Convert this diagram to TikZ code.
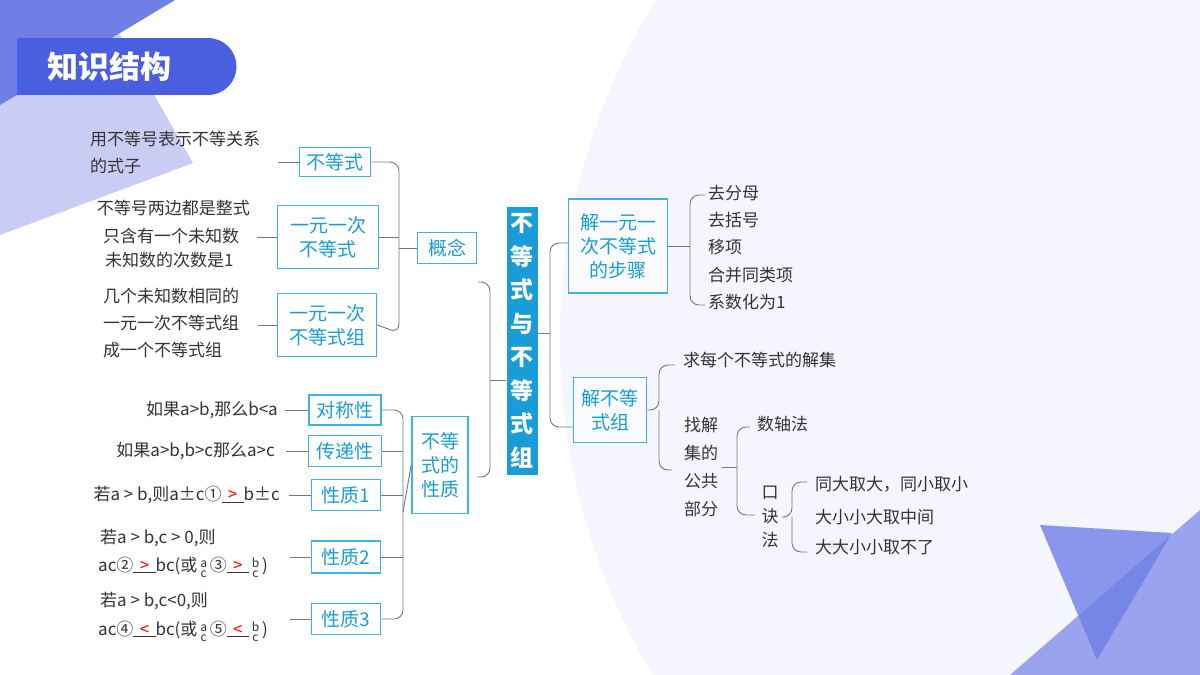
\documentclass[tikz,border=0pt]{standalone}
\usepackage{fontspec}
\setmainfont{Noto Sans CJK SC}
\definecolor{cy}{HTML}{1A9CD8}
\definecolor{cyb}{HTML}{3BB3E6}
\definecolor{ln}{HTML}{777777}
\newcommand{\blk}[1]{\underline{\makebox[1.3em]{\color{red}#1}}}
\newcommand{\fr}[2]{\,\raisebox{-0.35em}{\fontsize{12}{10}\selectfont\shortstack{#1\\#2}}\,}
\begin{document}
\begin{tikzpicture}[x=1pt,y=-1pt,
  box/.style={draw=cyb,line width=1.6pt,text=cy,align=center,font=\fontsize{19}{24}\selectfont,inner sep=0pt,fill=white,fill opacity=0.6,text opacity=1},
  txt/.style={text=black!80,font=\fontsize{17}{27}\selectfont,inner sep=0pt},
  con/.style={draw=ln,line width=0.9pt},
  br/.style={draw=ln,line width=0.9pt,rounded corners=9pt}]
\useasboundingbox (0,0) rectangle (1200,675);
\fill[white] (0,0) rectangle (1200,675);
\begin{scope}
\clip (0,0) rectangle (1200,675);
\fill[fill=blue!4!white] (1210,340) circle (650);
\end{scope}
\fill[fill={rgb,255:red,201;green,205;blue,243}] (0,0) -- (100,0) -- (193,163) -- (0,235) -- cycle;
\fill[fill={rgb,255:red,111;green,127;blue,230}] (0,0) -- (175,0) -- (0,105) -- cycle;
\fill[fill={rgb,255:red,154;green,163;blue,238}] (1010,675) -- (1200,510) -- (1200,675) -- cycle;
\fill[fill={rgb,255:red,110;green,127;blue,230},fill opacity=0.8] (1040,525) -- (1172,533) -- (1097,660) -- cycle;
% title
\fill[fill={rgb,255:red,74;green,95;blue,224}] (17,38) rectangle (208,95);
\fill[fill={rgb,255:red,74;green,95;blue,224}] (208,66.5) circle (28.5);
\node[text=white,font=\fontsize{31}{36}\selectfont\bfseries,anchor=west] (title) at (44,67) {知识结构};

% center
\node[fill=cy,text=white,minimum width=31pt,minimum height=268pt,inner sep=0pt,align=center,font=\fontsize{23}{33.5}\selectfont\bfseries] (root) at (522,341) {不\\等\\式\\与\\不\\等\\式\\组};

% left boxes
\node[box,minimum width=71pt,minimum height=29pt] (b1) at (335,162) {不等式};
\node[box,minimum width=101pt,minimum height=63pt] (b2) at (328,237) {一元一次\\不等式};
\node[box,minimum width=99pt,minimum height=63pt] (b3) at (327,325) {一元一次\\不等式组};
\node[box,minimum width=59pt,minimum height=31pt] (gn) at (447,248) {概念};
\node[box,minimum width=72pt,minimum height=30pt] (p1) at (345,410) {对称性};
\node[box,minimum width=73pt,minimum height=31pt] (p2) at (345,451) {传递性};
\node[box,minimum width=69pt,minimum height=31pt] (p3) at (346,495) {性质1};
\node[box,minimum width=69pt,minimum height=32pt] (p4) at (346,557) {性质2};
\node[box,minimum width=69pt,minimum height=31pt] (p5) at (346,619) {性质3};
\node[box,minimum width=56pt,minimum height=97pt] (xz) at (440,465) {不等\\式的\\性质};

% right boxes
\node[box,minimum width=99pt,minimum height=94pt] (r1) at (618,246) {解一元一\\次不等式\\的步骤};
\node[box,minimum width=73pt,minimum height=65pt] (r2) at (610,410) {解不等\\式组};

% left texts
\node[txt,align=left,anchor=north west] (t1) at (90,131) {用不等号表示不等关系\\的式子};
\node[txt,align=right,anchor=east] (t2a) at (250,208) {不等号两边都是整式};
\node[txt,align=left,anchor=west] (t2b) at (103,236) {只含有一个未知数};
\node[txt,align=left,anchor=west] (t2c) at (105,260) {未知数的次数是1};
\node[txt,align=left,anchor=north west] (t3) at (103,288) {几个未知数相同的\\一元一次不等式组\\成一个不等式组};
\node[txt,anchor=east] (q1) at (278,410) {如果a>b,那么b<a};
\node[txt,anchor=east] (q2) at (275,451) {如果a>b,b>c那么a>c};
\node[txt,anchor=east] (q3) at (280,495) {若a > b,则a±c①\blk{>}b±c};
\node[txt,anchor=west] (q4a) at (100,538) {若a > b,c > 0,则};
\node[txt,anchor=west] (q4b) at (98,567) {ac②\blk{>}bc(或\fr{a}{c}③\blk{>}\fr{b}{c})};
\node[txt,anchor=west] (q5a) at (100,601) {若a > b,c<0,则};
\node[txt,anchor=west] (q5b) at (98,631) {ac④\blk{<}bc(或\fr{a}{c}⑤\blk{<}\fr{b}{c})};

% right texts
\node[txt,anchor=west] (s1) at (708,193) {去分母};
\node[txt,anchor=west] (s2) at (708,220) {去括号};
\node[txt,anchor=west] (s3) at (708,247) {移项};
\node[txt,anchor=west] (s4) at (708,275) {合并同类项};
\node[txt,anchor=west] (s5) at (708,302) {系数化为1};
\node[txt,anchor=west] (u1) at (683,360) {求每个不等式的解集};
\node[txt,align=center,font=\fontsize{17}{28}\selectfont] (u2) at (701,467) {找解\\集的\\公共\\部分};
\node[txt,anchor=west] (v1) at (757,424) {数轴法};
\node[txt,align=center,font=\fontsize{17}{24}\selectfont] (v2) at (770,517) {口\\诀\\法};
\node[txt,anchor=west] (w1) at (815,484) {同大取大，同小取小};
\node[txt,anchor=west] (w2) at (815,517) {大小小大取中间};
\node[txt,anchor=west] (w3) at (815,547) {大大小小取不了};

% short connectors
\draw[con] (278,162) -- (b1.west);
\draw[con] (257,237) -- (b2.west);
\draw[con] (258,325) -- (b3.west);
\draw[con] (285,410) -- (p1.west);
\draw[con] (286,451) -- (p2.west);
\draw[con] (289,495) -- (p3.west);
\draw[con] (290,557) -- (p4.west);
\draw[con] (290,619) -- (p5.west);

% braces
\draw[br] (b1.east) -- (399,162) -- (399,333) -- (b3.east);
\draw[con] (b2.east) -- (399,237);
\draw[con] (399,248) -- (gn.west);
\draw[br] (p1.east) -- (403,410) -- (403,619) -- (p5.east);
\draw[con] (p2.east) -- (403,451);
\draw[con] (p3.east) -- (403,495);
\draw[con] (p4.east) -- (403,557);
\draw[con] (403,512) -- (xz.west);
\draw[br] (478,282) -- (490,282) -- (490,477) -- (477,477);
\draw[con] (490,380) -- (root.west|-0,380);
\draw[br] (568,243) -- (550,243) -- (550,427) -- (r2.west|-0,427);
\draw[con] (root.east|-0,333) -- (550,333);
\draw[br] (r1.east) -- (690,246);
\draw[br] (705,195) -- (690,195) -- (690,305) -- (705,305);
\draw[br] (r2.east) -- (659,410) -- (659,365) -- (675,365);
\draw[br] (659,410) -- (659,470) -- (672,470);
\draw[br] (750,427) -- (737,427) -- (737,515) -- (755,515);
\draw[con] (722,467) -- (737,467);
\draw[br] (782,517) -- (792,517) -- (792,482) -- (807,482);
\draw[br] (792,517) -- (792,552) -- (807,552);
\end{tikzpicture}
\end{document}
